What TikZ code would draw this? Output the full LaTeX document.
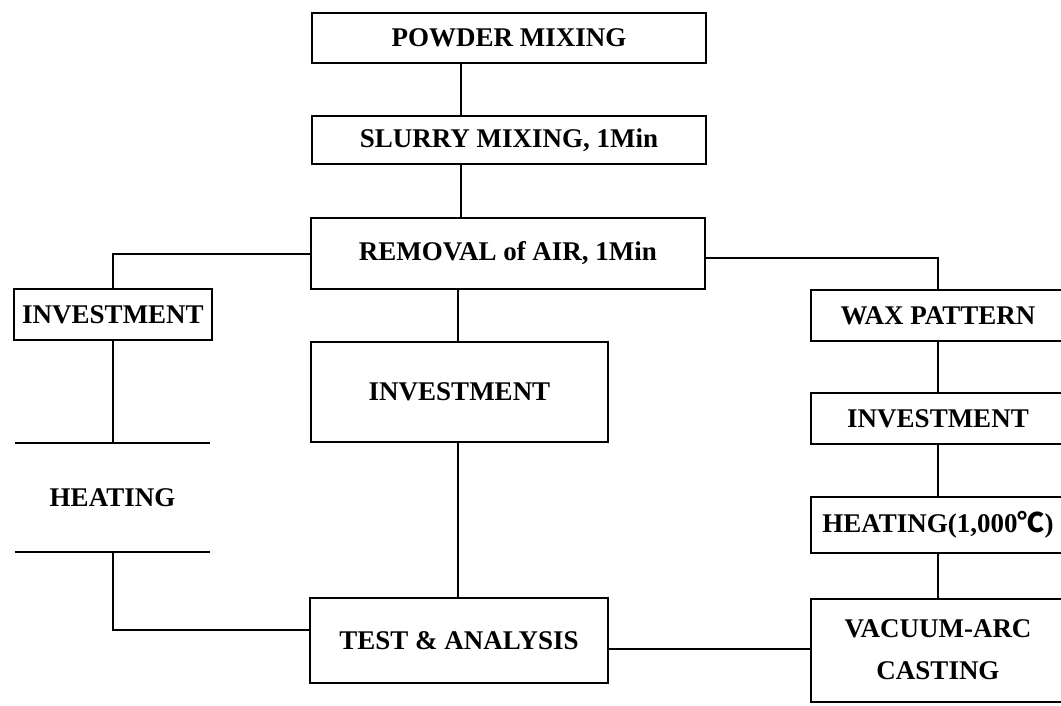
\documentclass[tikz,border=0pt]{standalone}
\usepackage{fontspec}
\setmainfont{Liberation Serif}
\newfontfamily\degfont{Noto Sans CJK KR}
\begin{document}
\begin{tikzpicture}[x=1pt,y=-1pt,
  every node/.style={font=\fontsize{27}{32}\selectfont\bfseries, align=center, inner sep=0pt},
  box/.style={draw, line width=2pt, rectangle},
  ln/.style={line width=2pt}]
\clip (0,0) rectangle (1061,705);
\fill[white] (0,0) rectangle (1061,705);
% nodes
\node[box, minimum width=394, minimum height=50] (pm) at (509,38) {POWDER MIXING};
\node[box, minimum width=394, minimum height=48] (sm) at (509,140) {SLURRY MIXING, 1Min};
\node[box, minimum width=394, minimum height=71] (rm) at (508,253.5) {REMOVAL of AIR, 1Min};
\node[box, minimum width=297, minimum height=100] (minv) at (459.5,392) {INVESTMENT};
\node[box, minimum width=298, minimum height=85] (test) at (459,640.5) {TEST \& ANALYSIS};
\node[box, minimum width=198, minimum height=51] (linv) at (113,314.5) {INVESTMENT};
\node[minimum width=195, minimum height=109] (lheat) at (112.5,497.5) {HEATING};
\node[box, minimum width=254, minimum height=51] (wax) at (938,315.5) {WAX PATTERN};
\node[box, minimum width=254, minimum height=51] (rinv) at (938,418.5) {INVESTMENT};
\node[box, minimum width=254, minimum height=56] (rheat) at (938,525) {HEATING(1,000{\degfont\bfseries ℃})};
\node[box, minimum width=254, minimum height=103] (vac) at (938,650) {VACUUM-ARC\\[10pt]CASTING};
% heating lines
\draw[ln] (lheat.north west) -- (lheat.north east);
\draw[ln] (lheat.south west) -- (lheat.south east);
% helper coordinates
\coordinate (xa) at (461,0);
\coordinate (xb) at (458,0);
\coordinate (xl) at (113,0);
\coordinate (xr) at (938,0);
\coordinate (yl) at (0,254);
\coordinate (yr) at (0,258);
\coordinate (yt) at (0,630);
\coordinate (yv) at (0,649);
% connectors
\draw[ln] (pm.south -| xa) -- (sm.north -| xa);
\draw[ln] (sm.south -| xa) -- (rm.north -| xa);
\draw[ln] (rm.south -| xb) -- (minv.north -| xb);
\draw[ln] (minv.south -| xb) -- (test.north -| xb);
\draw[ln] (rm.west |- yl) -| (linv.north -| xl);
\draw[ln] (rm.east |- yr) -| (wax.north -| xr);
\draw[ln] (linv.south -| xl) -- (lheat.north -| xl);
\draw[ln] (lheat.south -| xl) |- (test.west |- yt);
\draw[ln] (wax.south -| xr) -- (rinv.north -| xr);
\draw[ln] (rinv.south -| xr) -- (rheat.north -| xr);
\draw[ln] (rheat.south -| xr) -- (vac.north -| xr);
\draw[ln] (test.east |- yv) -- (vac.west |- yv);
\end{tikzpicture}
\end{document}
